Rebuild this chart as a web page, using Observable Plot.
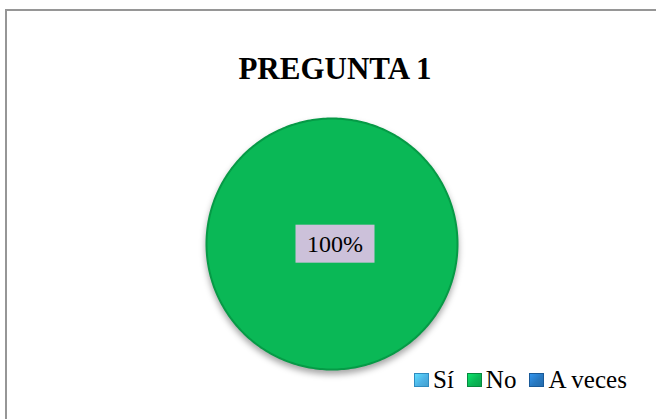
<!DOCTYPE html>
<html><head><meta charset="utf-8">
<script src="https://cdn.jsdelivr.net/npm/d3@7"></script>
<script src="https://cdn.jsdelivr.net/npm/@observablehq/plot@0.6"></script>
<style>
body{margin:0;background:#fff;}
#page{position:relative;width:656px;height:419px;overflow:hidden;font-family:"Liberation Serif","Times New Roman",serif;background:#fff;}
#frame{position:absolute;left:5px;top:9px;width:720px;height:520px;border:2px solid #969696;box-sizing:border-box;}
#title{position:absolute;left:0;width:670px;top:53px;text-align:center;font-weight:bold;font-size:31px;line-height:1;color:#000;}
#pie{position:absolute;left:201px;top:113px;}
#pie svg{overflow:visible;}
#legend{position:absolute;left:414px;top:367px;font-size:25px;line-height:1;white-space:nowrap;color:#000;}
#legend .item{display:inline-block;margin-right:13px;}
#legend .item:last-child{margin-right:0;}
#legend .sw{display:inline-block;width:13px;height:12px;margin-right:4px;margin-bottom:1px;vertical-align:baseline;border:1px solid;}
</style>
</head><body>
<div id="page">
  <div id="frame"></div>
  <div id="title"></div>
  <div id="pie"></div>
  <div id="legend"></div>
</div>
<script>
// ---- data ----
const chartTitle = "PREGUNTA 1";
const categories = ["Sí", "No", "A veces"];
const values = [0, 100, 0];
const colors = ["#4db3e6", "#0ab856", "#2878c0"];
const swatchBorders = ["#2f8cc0", "#07893f", "#1a5a98"];

// ---- build slices ----
const total = d3.sum(values);
const pie = d3.pie().sort(null).value(d => d.value)(categories.map((c, i) => ({cat: c, value: values[i]})));
const points = [];
const labels = [];
pie.forEach(s => {
  const span = s.endAngle - s.startAngle;
  if (span <= 0) return;
  const full = span >= 2 * Math.PI - 1e-9;
  const n = Math.max(2, Math.ceil(span / (Math.PI / 180)));
  if (!full) points.push({cat: s.data.cat, x: 0, y: 0});
  for (let k = 0; k <= n; k++) {
    const a = s.startAngle + span * k / n;
    points.push({cat: s.data.cat, x: Math.sin(a), y: Math.cos(a)});
  }
  if (!full) points.push({cat: s.data.cat, x: 0, y: 0});
  const mid = (s.startAngle + s.endAngle) / 2;
  const r = full ? 0 : 0.6;
  labels.push({x: r * Math.sin(mid), y: r * Math.cos(mid), text: d3.format(".0%")(s.data.value / total)});
});

document.getElementById("title").textContent = chartTitle;

const chart = Plot.plot({
  width: 261, height: 261,
  marginTop: 5, marginBottom: 5, marginLeft: 5, marginRight: 5,
  x: {domain: [-1, 1], axis: null},
  y: {domain: [-1, 1], axis: null},
  color: {domain: categories, range: colors},
  style: {background: "transparent", overflow: "visible"},
  marks: [
    Plot.line(points, {x: "x", y: "y", z: "cat", fill: "cat", stroke: "#069a46", strokeWidth: 2, curve: "linear"}),
    Plot.text(labels, {x: "x", y: "y", text: "text", fontSize: 24, fontFamily: "'Liberation Serif', 'Times New Roman', serif", fill: "#000", dx: 3})
  ]
});
document.getElementById("pie").appendChild(chart);

// shadow on the pie
chart.querySelectorAll('g[aria-label="line"] path').forEach(p => {
  p.style.filter = "drop-shadow(0px 4px 3px rgba(0,0,0,0.35))";
});
// label background boxes
chart.querySelectorAll('g[aria-label="text"] text').forEach(t => {
  t.style.fontFamily = "'Liberation Serif', 'Times New Roman', serif";
  const b = t.getBBox();
  const rect = document.createElementNS("http://www.w3.org/2000/svg", "rect");
  const padX = 11.5, padY = 6;
  rect.setAttribute("x", b.x - padX);
  rect.setAttribute("y", b.y - padY);
  rect.setAttribute("width", b.width + 2 * padX);
  rect.setAttribute("height", b.height + 2 * padY);
  rect.setAttribute("fill", "#ccc1da");
  const tr = t.getAttribute("transform");
  if (tr) rect.setAttribute("transform", tr);
  t.parentNode.insertBefore(rect, t);
});

// legend
const legend = document.getElementById("legend");
categories.forEach((c, i) => {
  const item = document.createElement("span");
  item.className = "item";
  const sw = document.createElement("span");
  sw.className = "sw";
  sw.style.background = `linear-gradient(135deg, ${d3.color(colors[i]).brighter(0.6)} 0%, ${colors[i]} 55%, ${d3.color(colors[i]).darker(0.3)} 100%)`;
  sw.style.borderColor = swatchBorders[i];
  item.appendChild(sw);
  item.appendChild(document.createTextNode(c));
  legend.appendChild(item);
});
</script>
</body></html>
